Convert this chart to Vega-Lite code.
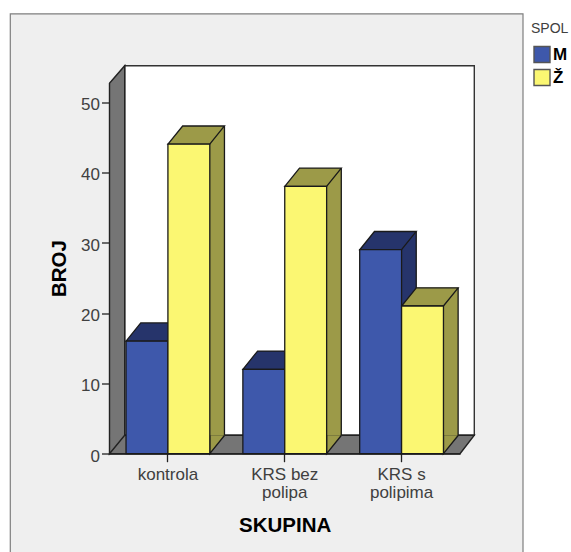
{
"$schema":"https://vega.github.io/schema/vega-lite/v6.json",
"width":512.7,"height":539,
"autosize":{"type":"none"},
"padding":{"left":10,"top":13.5,"right":48.3,"bottom":0},
"background":"white",
"view":{"fill":"#efefef","stroke":"#7f7f7f","strokeWidth":1.2},
"config":{"font":"Liberation Sans"},
"datasets":{"bars":[
 {"SKUPINA":"kontrola","SPOL":"M","BROJ":16},
 {"SKUPINA":"kontrola","SPOL":"Ž","BROJ":44},
 {"SKUPINA":"KRS bez polipa","SPOL":"M","BROJ":12},
 {"SKUPINA":"KRS bez polipa","SPOL":"Ž","BROJ":38},
 {"SKUPINA":"KRS s polipima","SPOL":"M","BROJ":29},
 {"SKUPINA":"KRS s polipima","SPOL":"Ž","BROJ":21}
]},
"layer":[
{"data":{"values":[{"okvir":"zadnji zid"}]},
 "mark":{"type":"point","filled":true,"opacity":1,"size":4,"fill":"white","stroke":"#333333","strokeWidth":1.4,"shape":"M-160.05,-388 L189.55,-388 L189.55,-18.4 L-160.05,-18.4 Z"},
 "encoding":{"x":{"datum":"KRS bez polipa","type":"nominal","axis":null,"scale":{"domain":["kontrola","KRS bez polipa","KRS s polipima"],"range":[99.5,450]}},"y":{"datum":0,"type":"quantitative"}}},
{"data":{"values":[{"okvir":"bocni zid i pod"}]},
 "mark":{"type":"point","filled":true,"opacity":1,"size":4,"fill":"#757575","stroke":"#222222","strokeWidth":1.4,"shape":"M-175.25,-370.4 L-160.05,-388 L-160.05,-18.4 L-175.25,0 Z M-175.25,0 L-160.05,-18.4 L189.55,-18.4 L175.25,0 Z"},
 "encoding":{"x":{"datum":"KRS bez polipa","type":"nominal","axis":null,"scale":{"domain":["kontrola","KRS bez polipa","KRS s polipima"],"range":[99.5,450]}},"y":{"datum":0,"type":"quantitative"}}},
{"data":{"name":"bars"},
 "mark":{"type":"bar","yOffset":-18.2,"y2Offset":-18.2,"strokeWidth":0},
 "encoding":{
  "x":{"field":"SKUPINA","type":"nominal","axis":null,"scale":{"domain":["kontrola","KRS bez polipa","KRS s polipima"],"range":[114.2,464.7],"paddingInner":0.283,"paddingOuter":0.1415}},
  "xOffset":{"field":"SPOL","type":"nominal","sort":["M","Ž"]},
  "y":{"field":"BROJ","type":"quantitative"},
  "color":{"field":"SPOL","type":"nominal","legend":null,"scale":{"domain":["M","Ž"],"range":["#26346b","#9c9a48"]}}}},
{"data":{"name":"bars"},
 "mark":{"type":"rule","yOffset":-18.2,"y2Offset":-18.2,"stroke":"#1a1a1a","strokeWidth":1.3},
 "encoding":{
  "x":{"field":"SKUPINA","type":"nominal","axis":null,"scale":{"domain":["kontrola","KRS bez polipa","KRS s polipima"],"range":[135.1,485.6],"paddingInner":0.283,"paddingOuter":0.1415}},
  "xOffset":{"field":"SPOL","type":"nominal","sort":["M","Ž"]},
  "y":{"field":"BROJ","type":"quantitative"},
  "y2":{"datum":0}}},
{"data":{"name":"bars"},
 "encoding":{
  "x":{"field":"SKUPINA","type":"nominal","sort":null,
   "scale":{"domain":["kontrola","KRS bez polipa","KRS s polipima"],"range":[99.5,450],"paddingInner":0.283,"paddingOuter":0.1415},
   "axis":{"title":"SKUPINA","titleFontSize":20.5,"titleFontWeight":"bold","titleColor":"#000000","titleX":274.7,"titleY":78,"titleAnchor":"middle","titleBaseline":"alphabetic",
    "offset":-98.8,"labelAngle":0,"labelFontSize":17,"labelColor":"#404040","labelPadding":5,"labelLineHeight":18,"tickSize":8,"tickColor":"#222222","tickWidth":1.3,"domainColor":"#222222","domainWidth":1.3,"grid":false,
    "labelExpr":"datum.label == 'KRS bez polipa' ? ['KRS bez','polipa'] : datum.label == 'KRS s polipima' ? ['KRS s','polipima'] : datum.label"}},
  "xOffset":{"field":"SPOL","type":"nominal","sort":["M","Ž"]},
  "y":{"field":"BROJ","type":"quantitative",
   "scale":{"domain":[0,52.66],"range":[440.2,69.8],"nice":false,"zero":false},
   "axis":{"title":"BROJ","titleFontSize":20.5,"titleFontWeight":"bold","titleColor":"#000000","titleX":-44.5,"titleY":254.5,"titleAngle":-90,"titleAnchor":"middle","titleBaseline":"alphabetic",
    "offset":-99.5,"values":[0,10,20,30,40,50],"labelFontSize":17,"labelColor":"#404040","labelPadding":2,"labelOffset":2.5,"tickSize":8,"tickColor":"#222222","tickWidth":1.3,"domainColor":"#222222","domainWidth":1.3,"grid":false}}
 },
 "layer":[
  {"mark":{"type":"point","filled":true,"opacity":1,"size":4,"stroke":"#1a1a1a","strokeWidth":1.3,"shape":"M35.6,-18.2 L20.9,0 L20.9,-18.2"},
   "encoding":{"y":{"datum":0,"type":"quantitative"},"color":{"field":"SPOL","type":"nominal","legend":null,"scale":{"domain":["M","Ž"],"range":["#26346b","#9c9a48"]}}}},
  {"mark":{"type":"point","filled":true,"opacity":1,"size":4,"stroke":"#1a1a1a","strokeWidth":1.3,"shape":"M-20.9,0 L-6.2,-18.2 L35.6,-18.2 L20.9,0 Z"},
   "encoding":{"color":{"field":"SPOL","type":"nominal","legend":null}}},
  {"mark":{"type":"bar","stroke":"#1a1a1a","strokeWidth":1.3},
   "encoding":{"fill":{"field":"SPOL","type":"nominal",
     "scale":{"domain":["M","Ž"],"range":["#3e58ab","#fbf772"]},
     "legend":{"orient":"none","legendX":521,"legendY":8,"padding":0,"title":"SPOL","titleFontSize":14,"titleFontWeight":"normal","titleColor":"#404040","titlePadding":10,"labelFontSize":17,"labelFontWeight":"bold","labelColor":"#000000","labelOffset":2,"symbolType":"square","symbolSize":256,"symbolStrokeColor":"#555555","symbolStrokeWidth":1.4,"rowPadding":1,"symbolOffset":2}}}}
 ]}
],
"resolve":{"scale":{"x":"independent","xOffset":"independent","color":"independent"}}
}
